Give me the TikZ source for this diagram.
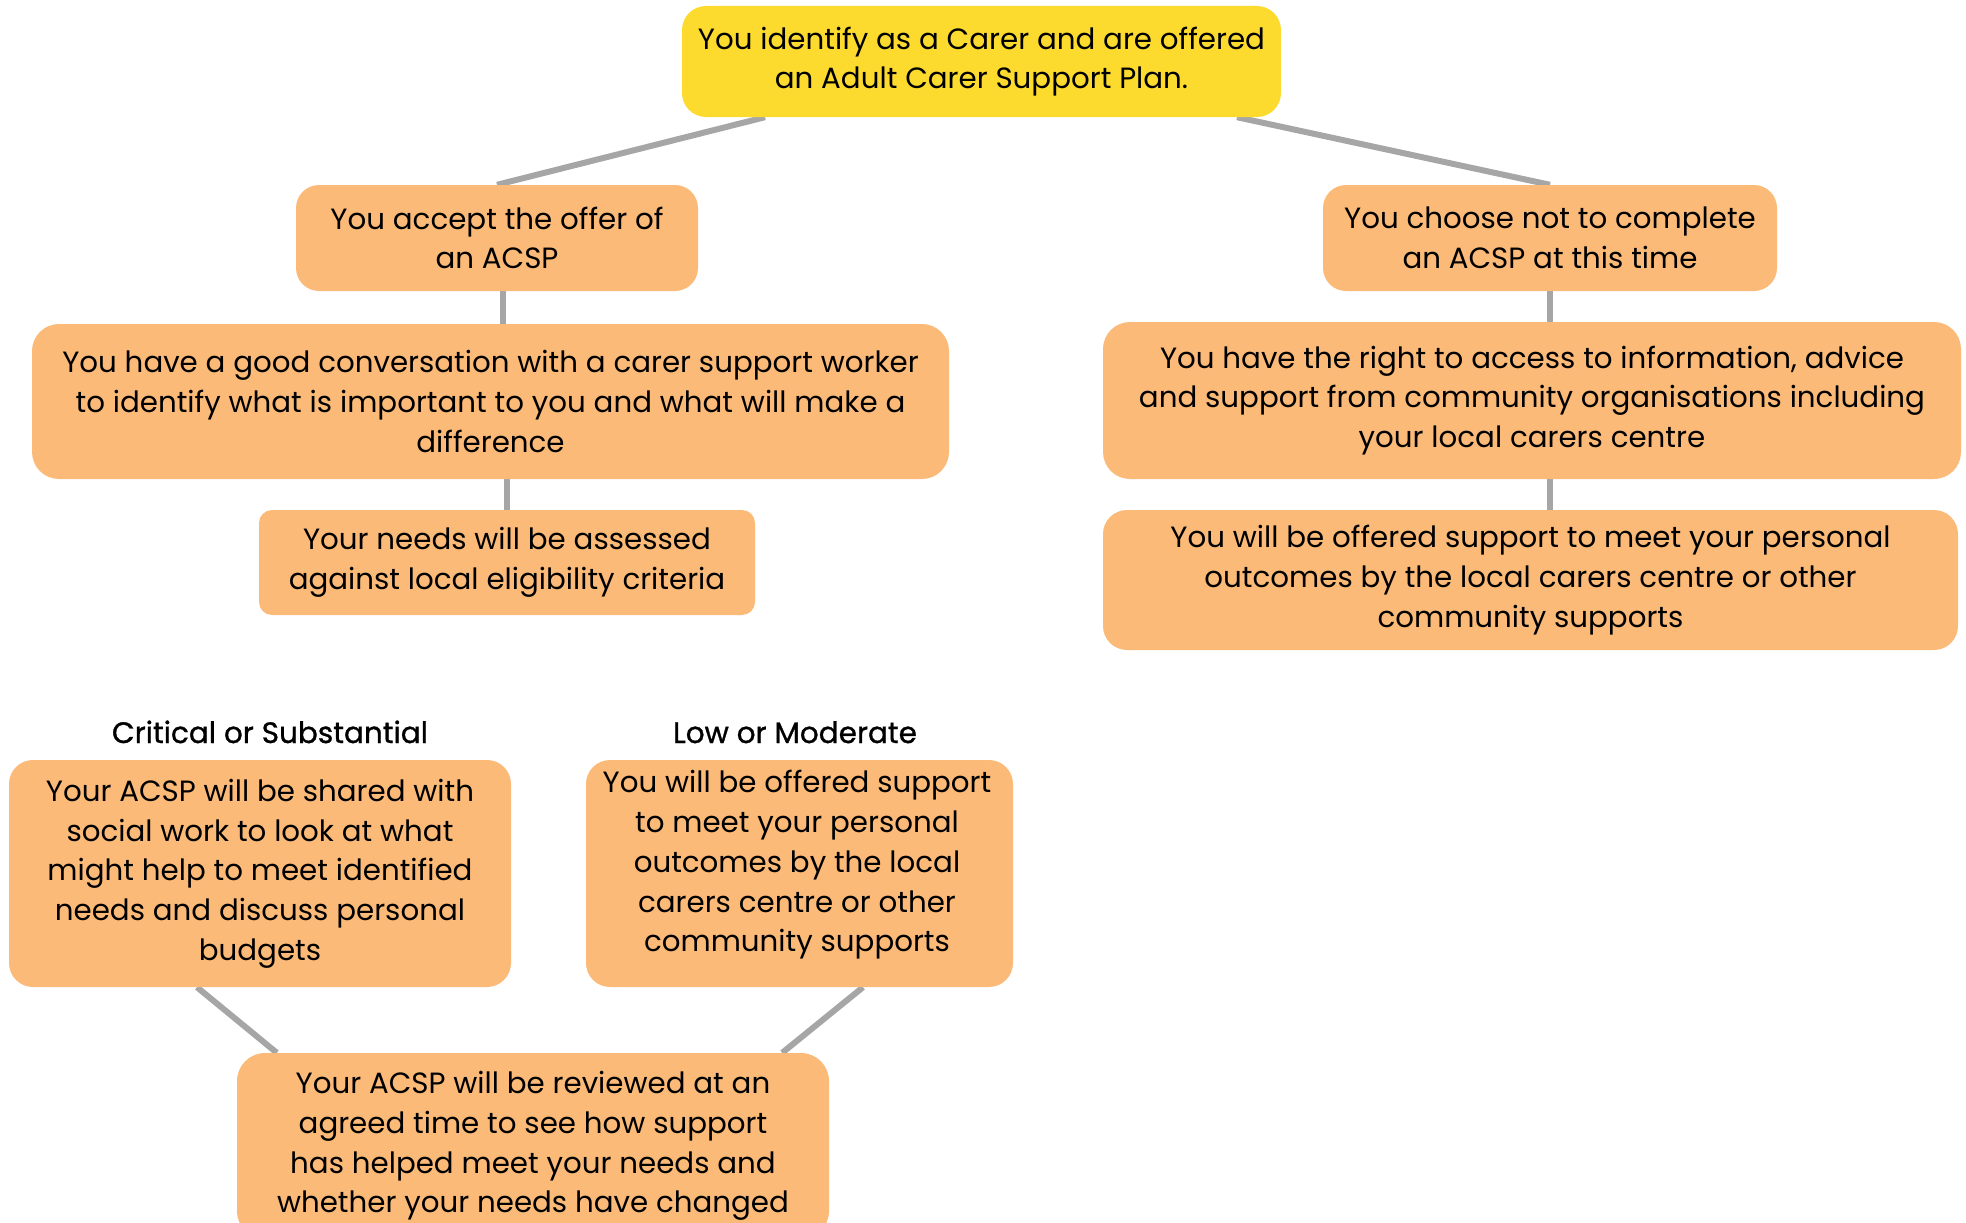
\documentclass[tikz,border=0pt]{standalone}
\usepackage{fontspec}
\setmainfont{Poppins}
\newfontfamily\labelfont{Poppins}[FakeBold=1.0]
\usetikzlibrary{backgrounds}
\definecolor{boxyellow}{HTML}{FCDB2E}
\definecolor{boxorange}{HTML}{FBBA78}
\definecolor{linkgray}{HTML}{A6A6A6}
\tikzset{
  box/.style={fill=boxorange, draw=none, rounded corners=24pt, align=center,
    inner sep=0pt, font=\fontsize{29.3}{39.7}\selectfont, text=black},
  topbox/.style={box, fill=boxyellow},
  heading/.style={font=\labelfont\fontsize{29.5}{36}\selectfont, inner sep=0pt, anchor=base},
  link/.style={draw=linkgray, line width=6pt},
  plain/.style={inner sep=0pt, align=center, font=\fontsize{29.3}{39.7}\selectfont}
}
\begin{document}
\begin{tikzpicture}[x=1pt,y=-1pt]
\useasboundingbox (0,0) rectangle (1966,1223);
% boxes
\node[topbox, minimum width=599pt, minimum height=111pt] (top) at (981.5,61.5)
  {You identify as a Carer and are offered\\an Adult Carer Support Plan.};
\node[box, minimum width=402pt, minimum height=106pt, rounded corners=23pt] (accept) at (497,238)
  {You accept the offer of\\an ACSP};
\node[box, minimum width=917pt, minimum height=155pt, rounded corners=27pt] (conv) at (490.5,401.5)
  {You have a good conversation with a carer support worker\\to identify what is important to you and what will make a\\difference};
\node[box, minimum width=496pt, minimum height=105pt, rounded corners=13pt] (needs) at (507,562.5)
  {Your needs will be assessed\\against local eligibility criteria};
\node[box, minimum width=454pt, minimum height=106pt, rounded corners=23pt] (choose) at (1550,238)
  {You choose not to complete\\an ACSP at this time};
\node[box, minimum width=858pt, minimum height=157pt, rounded corners=27pt] (right) at (1532,400.5)
  {You have the right to access to information, advice\\and support from community organisations including\\your local carers centre};
\node[box, minimum width=855pt, minimum height=140pt] (offered) at (1530.5,580)
  {You will be offered support to meet your personal\\outcomes by the local carers centre or other\\community supports};
% headings
\node[heading] (hcrit) at (270,743) {Critical or Substantial};
\node[heading] (hlow) at (795,743) {Low or Moderate};
\node[box, minimum width=502pt, minimum height=227pt] (crit) at (260,873.5)
  {Your ACSP will be shared with\\social work to look at what\\might help to meet identified\\needs and discuss personal\\budgets};
\node[box, minimum width=427pt, minimum height=227pt] (low) at (799.5,873.5) {};
\node[plain] (lowtext) at (797,865)
  {You will be offered support\\to meet your personal\\outcomes by the local\\carers centre or other\\community supports};
\node[box, minimum width=592pt, minimum height=186pt, rounded corners=28pt] (rev) at (533,1146)
  {Your ACSP will be reviewed at an\\agreed time to see how support\\has helped meet your needs and\\whether your needs have changed};
% connectors
\begin{pgfonlayer}{background}
\draw[link] ([xshift=-216.5pt]top.south) -- (accept.north);
\draw[link] ([xshift=255.5pt]top.south) -- (choose.north);
\draw[link] ([xshift=6pt]accept.south) -- ([xshift=6pt]accept.south |- conv.north);
\draw[link] (needs.north |- conv.south) -- (needs.north);
\draw[link] (choose.south) -- (choose.south |- right.north);
\draw[link] (choose.south |- right.south) -- (choose.south |- offered.north);
\draw[link] ([xshift=-63pt]crit.south) -- ([xshift=40pt]rev.north west);
\draw[link] ([xshift=63.5pt]low.south) -- ([xshift=-47pt]rev.north east);
\end{pgfonlayer}
\end{tikzpicture}
\end{document}
